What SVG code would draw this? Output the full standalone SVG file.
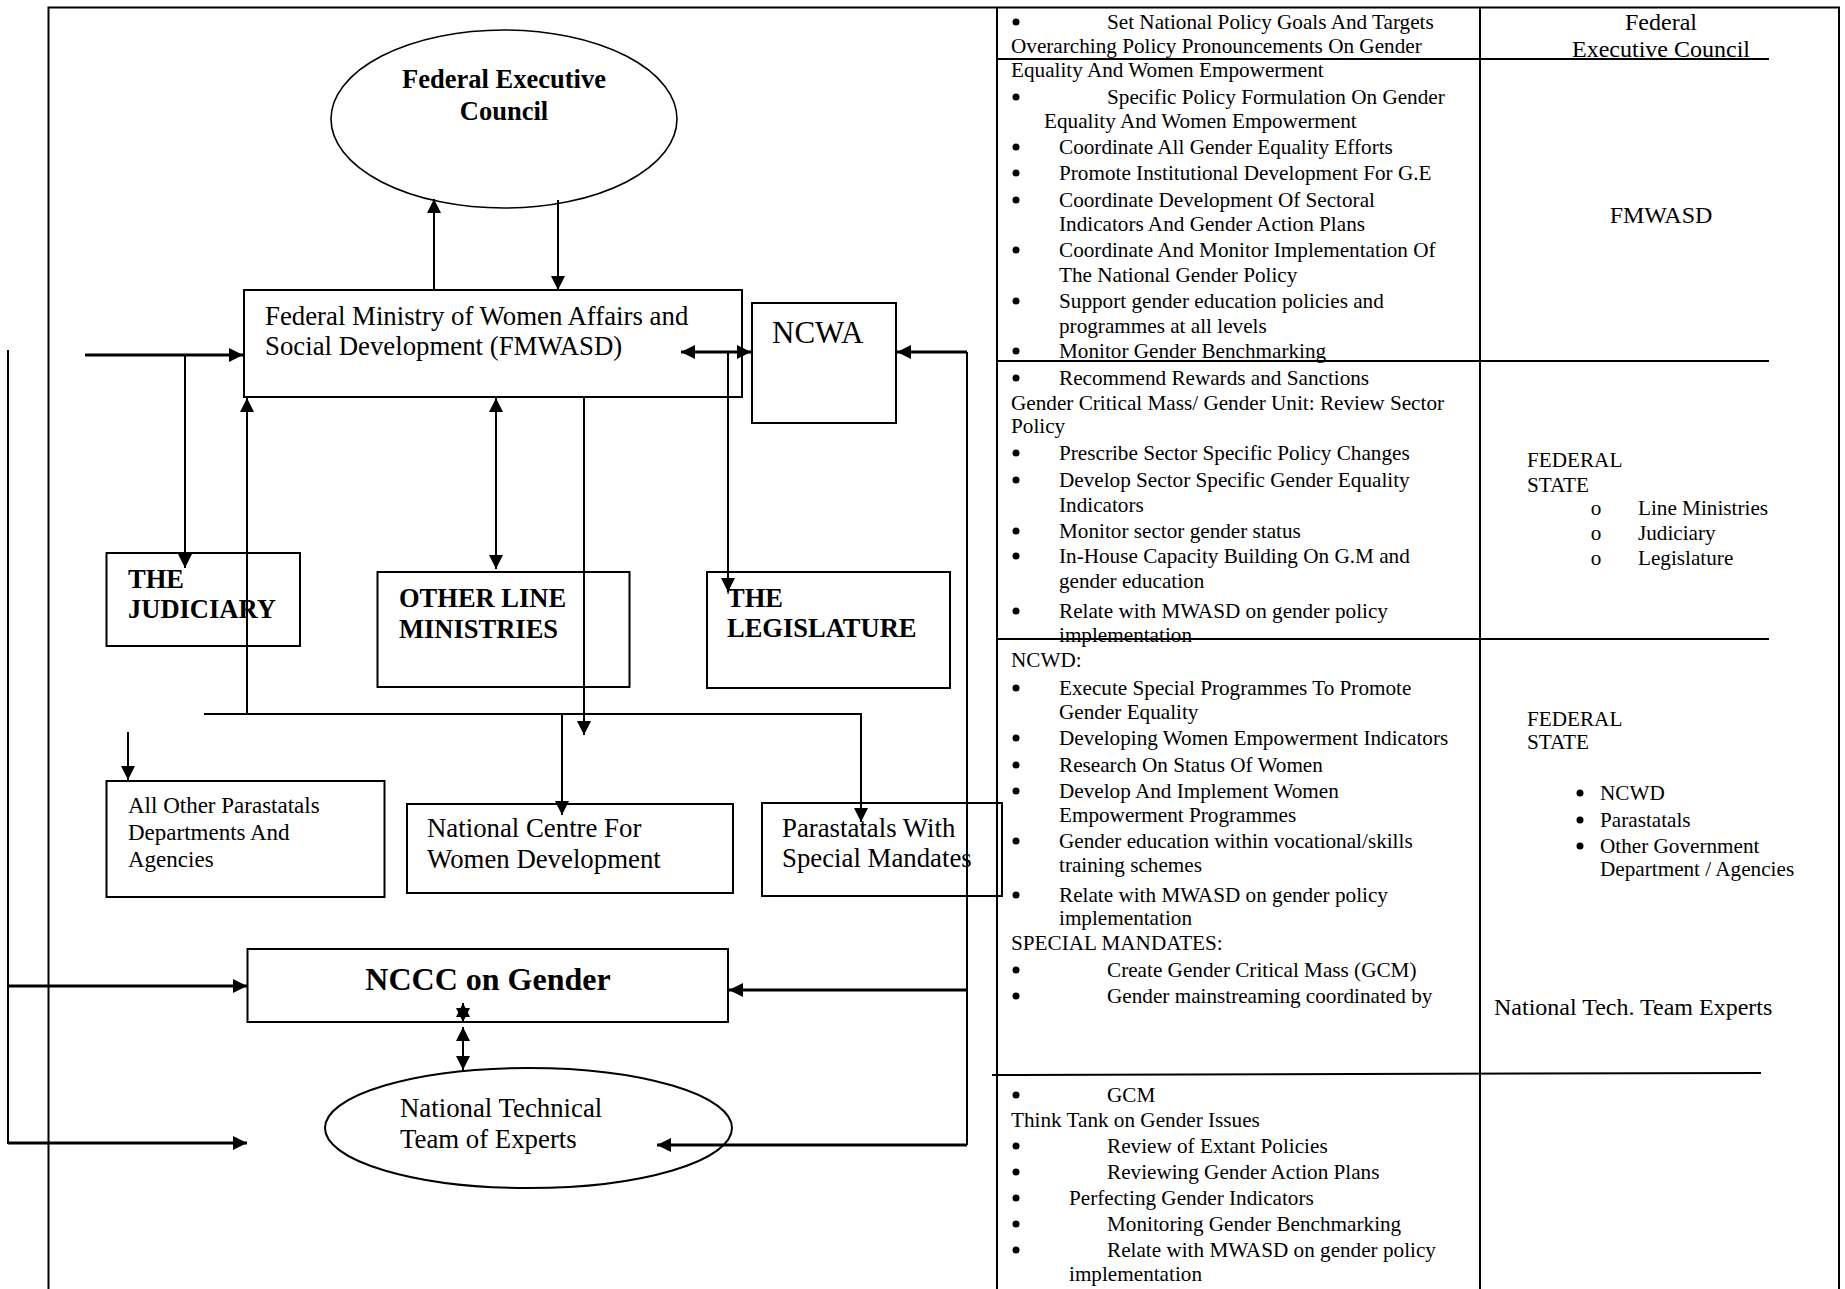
<svg xmlns="http://www.w3.org/2000/svg" width="1845" height="1289" viewBox="0 0 1845 1289">
<style>
.t{font-family:"Liberation Serif","Times New Roman",serif;fill:#000}
.d{font-size:26.8px}
.b{font-size:26.5px;font-weight:bold}
.s{font-size:21.2px}
.r{font-size:24px}
.box{fill:none;stroke:#000;stroke-width:2}
.ln{fill:none;stroke:#000;stroke-width:2}
.lt{fill:none;stroke:#000;stroke-width:3}
.a{marker-end:url(#ah)}
.aa{marker-start:url(#ah);marker-end:url(#ah)}
.frame{fill:none;stroke:#000;stroke-width:2}
</style>
<defs>
<marker id="ah" viewBox="0 0 14 14" refX="14" refY="7" markerWidth="14" markerHeight="14" markerUnits="userSpaceOnUse" orient="auto-start-reverse"><path d="M0,0 L14,7 L0,14 z" fill="#000"/></marker>
</defs>
<rect width="1845" height="1289" fill="#fff"/>

<g id="frame">
<path class="frame" d="M48.5,1289 V7.5 H1839 V1289"/>
<line class="frame" x1="997" y1="7" x2="997" y2="1289"/>
<line class="frame" x1="1480" y1="7" x2="1480" y2="1289"/>
<line class="frame" x1="997" y1="59" x2="1769" y2="59"/>
<line class="frame" x1="997" y1="361" x2="1769" y2="361"/>
<line class="frame" x1="997" y1="639" x2="1769" y2="639"/>
<line class="frame" x1="992" y1="1075" x2="1761" y2="1073"/>
</g>

<g id="fec">
<ellipse cx="504" cy="119" rx="173" ry="89" fill="none" stroke="#000" stroke-width="1.6"/>
<text class="t b" x="504" y="88" text-anchor="middle">Federal Executive</text>
<text class="t b" x="504" y="120" text-anchor="middle">Council</text>
</g>

<g id="fmwasd">
<rect class="box" x="244" y="290" width="498" height="107"/>
<text class="t d" x="265" y="325">Federal Ministry of Women Affairs and</text>
<text class="t d" x="265" y="355">Social Development (FMWASD)</text>
</g>

<g id="ncwa">
<rect class="box" x="752" y="303" width="144" height="120"/>
<text class="t" x="772" y="343" font-size="31">NCWA</text>
</g>

<g id="judiciary">
<rect class="box" x="106.5" y="553" width="193.5" height="93"/>
<text class="t b" x="128" y="588">THE</text>
<text class="t b" x="128" y="618">JUDICIARY</text>
</g>

<g id="other-line">
<rect class="box" x="377.5" y="572" width="252" height="115"/>
<text class="t b" x="399" y="607">OTHER LINE</text>
<text class="t b" x="399" y="638">MINISTRIES</text>
</g>

<g id="legislature">
<rect class="box" x="707" y="572" width="243" height="116"/>
<text class="t b" x="727" y="607">THE</text>
<text class="t b" x="727" y="637">LEGISLATURE</text>
</g>

<g id="all-other">
<rect class="box" x="106.5" y="781" width="278" height="116"/>
<text class="t" x="128" y="813" font-size="23">All Other Parastatals</text>
<text class="t" x="128" y="840" font-size="23">Departments And</text>
<text class="t" x="128" y="867" font-size="23">Agencies</text>
</g>

<g id="ncwd">
<rect class="box" x="407" y="804" width="326" height="89"/>
<text class="t d" x="427" y="837">National Centre For</text>
<text class="t d" x="427" y="868">Women Development</text>
</g>

<g id="special">
<rect class="box" x="762" y="803" width="240" height="93"/>
<text class="t d" x="782" y="837">Parastatals With</text>
<text class="t d" x="782" y="867">Special Mandates</text>
</g>

<g id="nccc">
<rect class="box" x="247.5" y="949" width="480.5" height="73"/>
<text class="t" x="488" y="990" font-size="32" font-weight="bold" text-anchor="middle">NCCC on Gender</text>
</g>

<g id="ntte">
<ellipse cx="528.5" cy="1128" rx="203.5" ry="60" fill="none" stroke="#000" stroke-width="2"/>
<text class="t d" x="400" y="1117">National Technical</text>
<text class="t d" x="400" y="1148">Team of Experts</text>
</g>

<g id="connectors">
<line class="ln a" x1="434" y1="290" x2="434" y2="199"/>
<line class="ln a" x1="558" y1="200" x2="558" y2="290"/>
<line class="lt a" x1="85" y1="355" x2="243" y2="355"/>
<line class="ln a" x1="185" y1="355" x2="185" y2="568"/>
<line class="ln a" x1="247" y1="714" x2="247" y2="398"/>
<path class="ln a" d="M204,714 H861 V822"/>
<line class="ln a" x1="562" y1="714" x2="562" y2="815"/>
<line class="ln a" x1="584" y1="397" x2="584" y2="735"/>
<line class="ln a" x1="128" y1="732" x2="128" y2="780"/>
<line class="ln aa" x1="496" y1="398" x2="496" y2="569"/>
<line class="lt aa" x1="681" y1="352" x2="751" y2="352"/>
<line class="ln a" x1="728" y1="352" x2="728" y2="592"/>
<path class="ln" d="M967,352 V1145"/>
<line class="lt a" x1="967" y1="352" x2="897" y2="352"/>
<line class="lt a" x1="967" y1="990" x2="729" y2="990"/>
<line class="lt a" x1="967" y1="1145" x2="657" y2="1145"/>
<line class="ln" x1="8" y1="350" x2="8" y2="1144"/>
<line class="lt a" x1="8" y1="986" x2="247" y2="986"/>
<line class="lt a" x1="8" y1="1143" x2="247" y2="1143"/>
<line class="ln aa" x1="463" y1="1003" x2="463" y2="1022"/>
<line class="ln aa" x1="463" y1="1027" x2="463" y2="1070"/>
</g>

<g id="table-text">
<g fill="#000">
<circle cx="1016" cy="22" r="3.5"/><circle cx="1016" cy="97" r="3.5"/><circle cx="1016" cy="147" r="3.5"/>
<circle cx="1016" cy="173" r="3.5"/><circle cx="1016" cy="200" r="3.5"/><circle cx="1016" cy="250" r="3.5"/>
<circle cx="1016" cy="301" r="3.5"/><circle cx="1016" cy="351" r="3.5"/><circle cx="1016" cy="378" r="3.5"/>
<circle cx="1016" cy="453" r="3.5"/><circle cx="1016" cy="480" r="3.5"/><circle cx="1016" cy="531" r="3.5"/>
<circle cx="1016" cy="556" r="3.5"/><circle cx="1016" cy="611" r="3.5"/><circle cx="1016" cy="688" r="3.5"/>
<circle cx="1016" cy="738" r="3.5"/><circle cx="1016" cy="765" r="3.5"/><circle cx="1016" cy="791" r="3.5"/>
<circle cx="1016" cy="841" r="3.5"/><circle cx="1016" cy="895" r="3.5"/><circle cx="1016" cy="970" r="3.5"/>
<circle cx="1016" cy="996" r="3.5"/><circle cx="1016" cy="1095" r="3.5"/><circle cx="1016" cy="1146" r="3.5"/>
<circle cx="1016" cy="1172" r="3.5"/><circle cx="1016" cy="1198" r="3.5"/><circle cx="1016" cy="1224" r="3.5"/>
<circle cx="1016" cy="1250" r="3.5"/>
</g>
<g class="t s">
<text x="1107" y="29">Set National Policy Goals And Targets</text>
<text x="1011" y="53">Overarching Policy Pronouncements On Gender</text>
<text x="1011" y="77">Equality And Women Empowerment</text>
<text x="1107" y="104">Specific Policy Formulation On Gender</text>
<text x="1044" y="128">Equality And Women Empowerment</text>
<text x="1059" y="154">Coordinate All Gender Equality Efforts</text>
<text x="1059" y="180">Promote Institutional Development For G.E</text>
<text x="1059" y="207">Coordinate Development Of Sectoral</text>
<text x="1059" y="231">Indicators And Gender Action Plans</text>
<text x="1059" y="257">Coordinate And Monitor Implementation Of</text>
<text x="1059" y="282">The National Gender Policy</text>
<text x="1059" y="308">Support gender education policies and</text>
<text x="1059" y="333">programmes at all levels</text>
<text x="1059" y="358">Monitor Gender Benchmarking</text>
<text x="1059" y="385">Recommend Rewards and Sanctions</text>
<text x="1011" y="410">Gender Critical Mass/ Gender Unit: Review Sector</text>
<text x="1011" y="433">Policy</text>
<text x="1059" y="460">Prescribe Sector Specific Policy Changes</text>
<text x="1059" y="487">Develop Sector Specific Gender Equality</text>
<text x="1059" y="512">Indicators</text>
<text x="1059" y="538">Monitor sector gender status</text>
<text x="1059" y="563">In-House Capacity Building On G.M and</text>
<text x="1059" y="588">gender education</text>
<text x="1059" y="618">Relate with MWASD on gender policy</text>
<text x="1059" y="642">implementation</text>
<text x="1011" y="667">NCWD:</text>
<text x="1059" y="695">Execute Special Programmes To Promote</text>
<text x="1059" y="719">Gender Equality</text>
<text x="1059" y="745">Developing Women Empowerment Indicators</text>
<text x="1059" y="772">Research On Status Of Women</text>
<text x="1059" y="798">Develop And Implement Women</text>
<text x="1059" y="822">Empowerment Programmes</text>
<text x="1059" y="848">Gender education within vocational/skills</text>
<text x="1059" y="872">training schemes</text>
<text x="1059" y="902">Relate with MWASD on gender policy</text>
<text x="1059" y="925">implementation</text>
<text x="1011" y="950">SPECIAL MANDATES:</text>
<text x="1107" y="977">Create Gender Critical Mass (GCM)</text>
<text x="1107" y="1003">Gender mainstreaming coordinated by</text>
<text x="1107" y="1102">GCM</text>
<text x="1011" y="1127">Think Tank on Gender Issues</text>
<text x="1107" y="1153">Review of Extant Policies</text>
<text x="1107" y="1179">Reviewing Gender Action Plans</text>
<text x="1069" y="1205">Perfecting Gender Indicators</text>
<text x="1107" y="1231">Monitoring Gender Benchmarking</text>
<text x="1107" y="1257">Relate with MWASD on gender policy</text>
<text x="1069" y="1281">implementation</text>
</g>
<g class="t r" text-anchor="middle">
<text x="1661" y="30">Federal</text>
<text x="1661" y="57">Executive Council</text>
<text x="1661" y="223">FMWASD</text>
</g>
<g class="t s">
<text x="1527" y="467">FEDERAL</text>
<text x="1527" y="492">STATE</text>
<text x="1596" y="515" text-anchor="middle">o</text>
<text x="1596" y="540" text-anchor="middle">o</text>
<text x="1596" y="565" text-anchor="middle">o</text>
<text x="1638" y="515">Line Ministries</text>
<text x="1638" y="540">Judiciary</text>
<text x="1638" y="565">Legislature</text>
<text x="1527" y="726">FEDERAL</text>
<text x="1527" y="749">STATE</text>
<text x="1600" y="800">NCWD</text>
<text x="1600" y="827">Parastatals</text>
<text x="1600" y="853">Other Government</text>
<text x="1600" y="876">Department / Agencies</text>
</g>
<g fill="#000">
<circle cx="1580" cy="793" r="3.5"/><circle cx="1580" cy="820" r="3.5"/><circle cx="1580" cy="846" r="3.5"/>
</g>
<text class="t r" x="1494" y="1015">National Tech. Team Experts</text>
</g>
</svg>
